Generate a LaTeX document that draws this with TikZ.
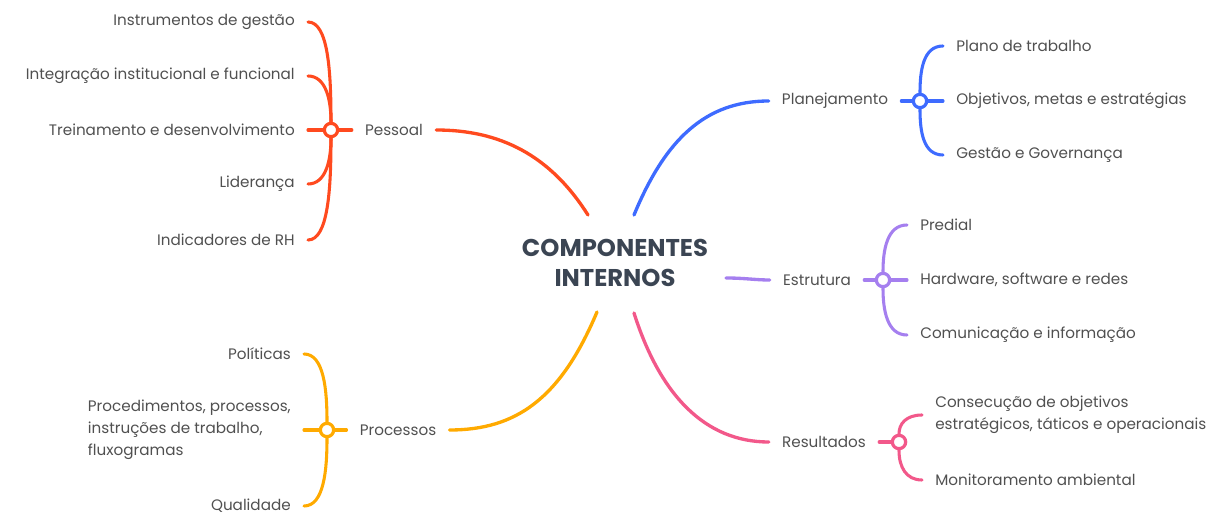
\documentclass[tikz,border=0pt]{standalone}
\usepackage{fontspec}
\setmainfont{Poppins}
\usetikzlibrary{calc,backgrounds}
\definecolor{cRed}{HTML}{FF4A1F}
\definecolor{cBlue}{HTML}{3E6BFF}
\definecolor{cPurple}{HTML}{A57FEF}
\definecolor{cOrange}{HTML}{FFAA00}
\definecolor{cPink}{HTML}{F2588A}
\definecolor{txt}{HTML}{505050}
\definecolor{ctxt}{HTML}{3B4553}
\begin{document}
\begin{tikzpicture}[x=0.75pt,y=-0.75pt,
  lbl/.style={text=txt, font=\fontsize{11.4}{16.5}\selectfont, inner xsep=9.75pt, inner ysep=2pt},
  leafL/.style={lbl, anchor=east},
  leafR/.style={lbl, anchor=west},
  hub/.style={circle, draw, line width=2.4pt, fill=white, minimum size=10pt, inner sep=0pt},
  mainline/.style={line width=2.5pt, line cap=round},
  subline/.style={line width=2.3pt, line cap=round},
  center/.style={text=ctxt, font=\bfseries\fontsize{18.2}{22.5}\selectfont, align=center, inner sep=0pt}]
\useasboundingbox (0,0) rectangle (1208,527);

% central topic
\node[center] (core) at (615,263) {COMPONENTES\\INTERNOS};
\coordinate (sP) at ($(core)+(-27,-48)$);
\coordinate (sPl) at ($(core)+(19,-48)$);
\coordinate (sE) at ($(core)+(111,15)$);
\coordinate (sPr) at ($(core)+(-18,49)$);
\coordinate (sR) at ($(core)+(19,50)$);

% branch labels
\node[lbl] (pessoal) at (394,130) {Pessoal};
\node[lbl] (planej) at (835,101) {Planejamento};
\node[lbl] (estrut) at (817,280) {Estrutura};
\node[lbl] (result) at (824,442) {Resultados};
\node[lbl] (proces) at (398,430) {Processos};

% hubs
\node[hub, draw=cRed] (hP) at (331,130) {};
\node[hub, draw=cBlue] (hPl) at (920,101) {};
\node[hub, draw=cPurple] (hE) at (883,280) {};
\node[hub, draw=cPink] (hR) at (899,442) {};
\node[hub, draw=cOrange] (hPr) at (327,430) {};

% Pessoal leaves
\node[leafL] (p1) at (308,22) {Instrumentos de gestão};
\node[leafL] (p2) at (308,76) {Integração institucional e funcional};
\node[leafL] (p3) at (308,130) {Treinamento e desenvolvimento};
\node[leafL] (p4) at (308,184) {Liderança};
\node[leafL] (p5) at (308,240) {Indicadores de RH};

% Processos leaves
\node[leafL] (r1) at (304,354) {Políticas};
\node[leafL, align=left] (r2) at (304,430) {Procedimentos, processos,\\instruções de trabalho,\\fluxogramas};
\node[leafL] (r3) at (304,506) {Qualidade};

% Planejamento leaves
\node[leafR] (q1) at (943,46) {Plano de trabalho};
\node[leafR] (q2) at (943,101) {Objetivos, metas e estratégias};
\node[leafR] (q3) at (943,155) {Gestão e Governança};

% Estrutura leaves
\node[leafR] (e1) at (907,225) {Predial};
\node[leafR] (e2) at (907,280) {Hardware, software e redes};
\node[leafR] (e3) at (907,335) {Comunicação e informação};

% Resultados leaves
\node[leafR, align=left] (s1) at (922,415) {Consecução de objetivos\\estratégicos, táticos e operacionais};
\node[leafR] (s2) at (922,480) {Monitoramento ambiental};

\begin{pgfonlayer}{background}
% main branches
\draw[mainline, cRed] (sP) .. controls (550,155) and (500,130) .. (pessoal.east);
\draw[mainline, cBlue] (sPl) .. controls (665,140) and (705,101) .. (planej.west);
\draw[mainline, cPurple] (sE) .. controls (745,278) and (755,280) .. (estrut.west);
\draw[mainline, cOrange] (sPr) .. controls (560,400) and (515,430) .. (proces.east);
\draw[mainline, cPink] (sR) .. controls (660,395) and (705,442) .. (result.west);

% stubs
\draw[subline, cRed] (pessoal.west) -- (hP);
\draw[subline, cBlue] (planej.east) -- (hPl);
\draw[subline, cPurple] (estrut.east) -- (hE);
\draw[subline, cPink] (result.east) -- (hR);
\draw[subline, cOrange] (proces.west) -- (hPr);

% Pessoal leaves
\draw[subline, cRed] (p1.east) .. controls +(20,0) and +(0,-60) .. (hP);
\draw[subline, cRed] (p2.east) .. controls +(18,0) and +(0,-30) .. (hP);
\draw[subline, cRed] (p3.east) -- (hP);
\draw[subline, cRed] (p4.east) .. controls +(18,0) and +(0,30) .. (hP);
\draw[subline, cRed] (p5.east) .. controls +(20,0) and +(0,60) .. (hP);

% Processos leaves
\draw[subline, cOrange] (r1.east) .. controls +(20,0) and +(0,-40) .. (hPr);
\draw[subline, cOrange] (r2.east) -- (hPr);
\draw[subline, cOrange] (r3.east) .. controls +(20,0) and +(0,40) .. (hPr);

% Planejamento leaves
\draw[subline, cBlue] (hPl) .. controls +(0,-30) and +(-20,0) .. (q1.west);
\draw[subline, cBlue] (hPl) -- (q2.west);
\draw[subline, cBlue] (hPl) .. controls +(0,30) and +(-20,0) .. (q3.west);

% Estrutura leaves
\draw[subline, cPurple] (hE) .. controls +(0,-30) and +(-20,0) .. (e1.west);
\draw[subline, cPurple] (hE) -- (e2.west);
\draw[subline, cPurple] (hE) .. controls +(0,30) and +(-20,0) .. (e3.west);

% Resultados leaves
\draw[subline, cPink] (hR) .. controls +(0,-18) and +(-16,0) .. (s1.west);
\draw[subline, cPink] (hR) .. controls +(0,25) and +(-16,0) .. (s2.west);
\end{pgfonlayer}
\end{tikzpicture}
\end{document}
